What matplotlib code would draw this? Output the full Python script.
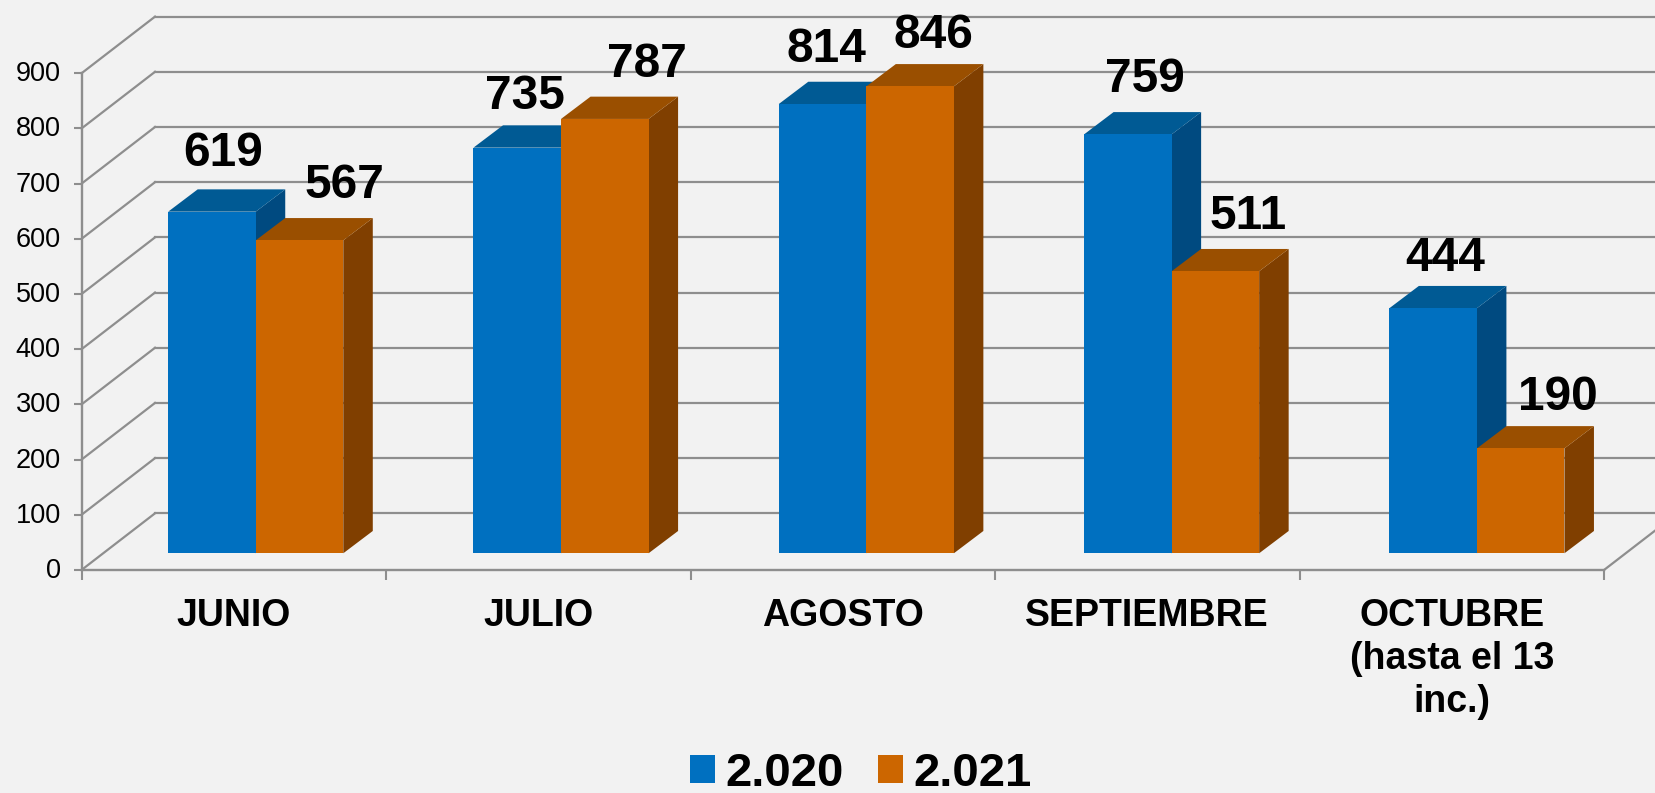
'''
bar chart with a fake 3D look, 2020 vs 2021 per month
'''
import numpy as np
import matplotlib
matplotlib.use('Agg')
import matplotlib.pyplot as plt
from matplotlib.patches import Patch
from matplotlib.transforms import ScaledTranslation

plt.rcParams['font.family'] = ['Liberation Sans', 'DejaVu Sans']

months = ['JUNIO', 'JULIO', 'AGOSTO', 'SEPTIEMBRE', 'OCTUBRE\n(hasta el 13\ninc.)']
series_names = ['2.020', '2.021']
values_2020 = [619, 735, 814, 759, 444]
values_2021 = [567, 787, 846, 511, 190]
y_ticks = [0, 100, 200, 300, 400, 500, 600, 700, 800, 900]

# front, top and side colour of each series
colors_2020 = ['#0070C0', '#005A94', '#004A80']
colors_2021 = ['#CC6600', '#9A4F00', '#803F00']
grid_color = '#8E8E8E'
bg_color = '#F2F2F2'

# depth of the fake 3D box, in data units
wall_dx, wall_dy = 0.2414, 102.7
base_dx, base_dy = 0.0722, 30.3
bar_dx, bar_dy = 0.0969, 40.4
bar_width = 0.2875
group_step = 1.0026  # bars drift a little from the tick spacing in the original

# hand placed label offsets (pixels from the front top centre of the bar)
label_dx = [[11, 8, 4, 17, 12], [45, 42, 23, 33, 37]]
label_dy = [[58, 51, 55, 55, 50], [55, 54, 51, 55, 51]]

fig = plt.figure(figsize=(16.55, 7.93), dpi=100, facecolor=bg_color)
ax = fig.add_axes([81.5 / 1655, (793 - 570) / 793, 1522.5 / 1655, 496.7 / 793])
ax.set_facecolor('none')
ax.set_xlim(0, 5)
ax.set_ylim(0, 900)

# back wall and left wall
for y in y_ticks:
    ax.plot([0, wall_dx], [y, y + wall_dy], color=grid_color, lw=1.6, clip_on=False, zorder=1)
    ax.plot([wall_dx, 5.3], [y + wall_dy, y + wall_dy], color=grid_color, lw=1.6, clip_on=False, zorder=1)
ax.plot([5, 5 + wall_dx], [0, wall_dy], color=grid_color, lw=1.6, clip_on=False, zorder=1)

index = np.arange(len(months)) * group_step + 0.5 + base_dx
all_values = [values_2020, values_2021]
all_colors = [colors_2020, colors_2021]
for i in range(len(months)):
    for s in range(2):
        left = index[i] - bar_width + s * bar_width
        right = left + bar_width
        top = base_dy + all_values[s][i]
        front, top_col, side = all_colors[s]
        ax.fill([right, right + bar_dx, right + bar_dx, right],
                [base_dy, base_dy + bar_dy, top + bar_dy, top],
                color=side, lw=0, clip_on=False, zorder=3)
        ax.fill([left, left + bar_dx, right + bar_dx, right],
                [top, top + bar_dy, top + bar_dy, top],
                color=top_col, lw=0, clip_on=False, zorder=3)
        ax.bar(left, all_values[s][i], bar_width, bottom=base_dy, align='edge',
               color=front, lw=0, clip_on=False, zorder=3)
        ax.annotate(str(all_values[s][i]), (left + bar_width / 2, top),
                    xytext=(label_dx[s][i] * 0.72, label_dy[s][i] * 0.72),
                    textcoords='offset points', ha='center', va='center',
                    fontsize=34.5, fontweight='bold', color='black',
                    annotation_clip=False, zorder=5)

for name in ['top', 'right']:
    ax.spines[name].set_visible(False)
for name in ['left', 'bottom']:
    ax.spines[name].set_color(grid_color)
    ax.spines[name].set_linewidth(1.7)

ax.set_yticks(y_ticks)
ax.tick_params(axis='y', length=5.5, width=1.5, color=grid_color, pad=9.5, labelsize=19.5, labelcolor='black')
lift = ScaledTranslation(0, 2 / 100, fig.dpi_scale_trans)
for label in ax.get_yticklabels():
    label.set_transform(label.get_transform() + lift)
ax.set_xticks(np.arange(6))
ax.set_xticklabels([])
ax.tick_params(axis='x', which='major', length=7.5, width=1.5, color=grid_color)
ax.set_xticks(np.arange(5) + 0.5, minor=True)
ax.set_xticklabels(months, minor=True, fontsize=27, fontweight='bold', linespacing=1.25)
ax.tick_params(axis='x', which='minor', length=0, pad=20)

handles = [Patch(color=colors_2020[0], lw=0), Patch(color=colors_2021[0], lw=0)]
fig.legend(handles, series_names, loc='center', bbox_to_anchor=(861 / 1655, 1 - 774 / 793), ncol=2,
           frameon=False, prop={'size': 34, 'weight': 'bold'}, handlelength=0.53, handleheight=0.53,
           handletextpad=0.22, columnspacing=0.72, borderpad=0, borderaxespad=0)

fig.savefig('out.png', dpi=100, facecolor=bg_color)
